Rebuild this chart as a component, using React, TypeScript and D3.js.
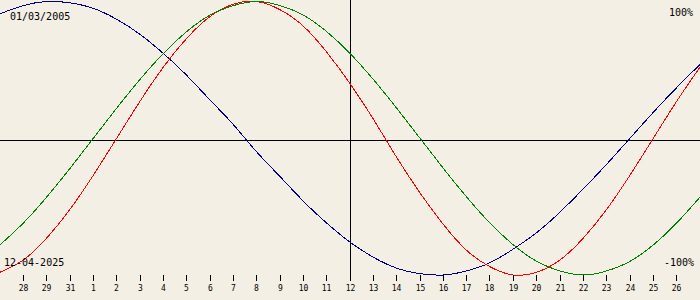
import React from "react";
import * as d3 from "d3";

// Day index 0..30 across the chart (centre = day 15)
const physical = [-0.98, -0.89, -0.73, -0.52, -0.27, 0.0, 0.27, 0.52, 0.73, 0.89, 0.98, 1.0, 0.94, 0.82, 0.63, 0.4, 0.14, -0.14, -0.4, -0.63, -0.82, -0.94, -1.0, -0.98, -0.89, -0.73, -0.52, -0.27, 0.0, 0.27, 0.52];
const emotional = [-0.78, -0.62, -0.43, -0.22, 0.0, 0.22, 0.43, 0.62, 0.78, 0.9, 0.97, 1.0, 0.97, 0.9, 0.78, 0.62, 0.43, 0.22, 0.0, -0.22, -0.43, -0.62, -0.78, -0.9, -0.97, -1.0, -0.97, -0.9, -0.78, -0.62, -0.43];
const intellectual = [0.91, 0.97, 1.0, 0.99, 0.95, 0.87, 0.76, 0.62, 0.46, 0.28, 0.1, -0.1, -0.28, -0.46, -0.62, -0.76, -0.87, -0.95, -0.99, -1.0, -0.97, -0.91, -0.81, -0.69, -0.54, -0.37, -0.19, 0.0, 0.19, 0.37, 0.54];

const tickLabels = ["28", "29", "31", "1", "2", "3", "4", "5", "6", "7", "8", "9", "10", "11", "12", "13", "14", "15", "16", "17", "18", "19", "20", "21", "22", "23", "24", "25", "26"];

const birthDate = "01/03/2005";
const targetDate = "12-04-2025";

const W = 700;
const H = 300;
const BG = "#F3EFE4";
const FONT = "'DejaVu Sans Mono', monospace";

export default function App() {
  const x = d3.scaleLinear().domain([0, 30]).range([0, W]);
  const y = d3.scaleLinear().domain([-1, 1]).range([275, 1.5]);
  const line = d3
    .line<number>()
    .x((_, i) => x(i))
    .y((v) => y(v))
    .curve(d3.curveNatural);

  const series = [
    { data: intellectual, color: "#000080" },
    { data: physical, color: "#FF0000" },
    { data: emotional, color: "#008000" },
  ];

  return (
    <svg
      width={W}
      height={H}
      style={{ position: "fixed", left: 0, top: 0, background: BG, display: "block" }}
    >
      <rect x={0} y={0} width={W} height={H} fill={BG} />
      <line x1={0} x2={W} y1={140.5} y2={140.5} stroke="#000" strokeWidth={1} shapeRendering="crispEdges" />
      <line x1={350.5} x2={350.5} y1={0} y2={280} stroke="#000" strokeWidth={1} shapeRendering="crispEdges" />
      {series.map((s, k) => (
        <path key={k} d={line(s.data) || ""} fill="none" stroke={s.color} strokeWidth={1} shapeRendering="crispEdges" />
      ))}
      {tickLabels.map((lab, j) => {
        const xi = Math.floor(x(j + 1)) + 0.5;
        return (
          <g key={j}>
            <line x1={xi} x2={xi} y1={275} y2={281} stroke="#000" strokeWidth={1} shapeRendering="crispEdges" />
            <text x={xi} y={291} textAnchor="middle" fontFamily={FONT} fontSize={8} fill="#000">
              {lab}
            </text>
          </g>
        );
      })}
      <text x={10} y={20} fontFamily={FONT} fontSize={10} fill="#000">{birthDate}</text>
      <text x={693} y={16} textAnchor="end" fontFamily={FONT} fontSize={10} fill="#000">100%</text>
      <text x={4} y={266} fontFamily={FONT} fontSize={10} fill="#000">{targetDate}</text>
      <text x={694} y={266} textAnchor="end" fontFamily={FONT} fontSize={10} fill="#000">-100%</text>
    </svg>
  );
}
